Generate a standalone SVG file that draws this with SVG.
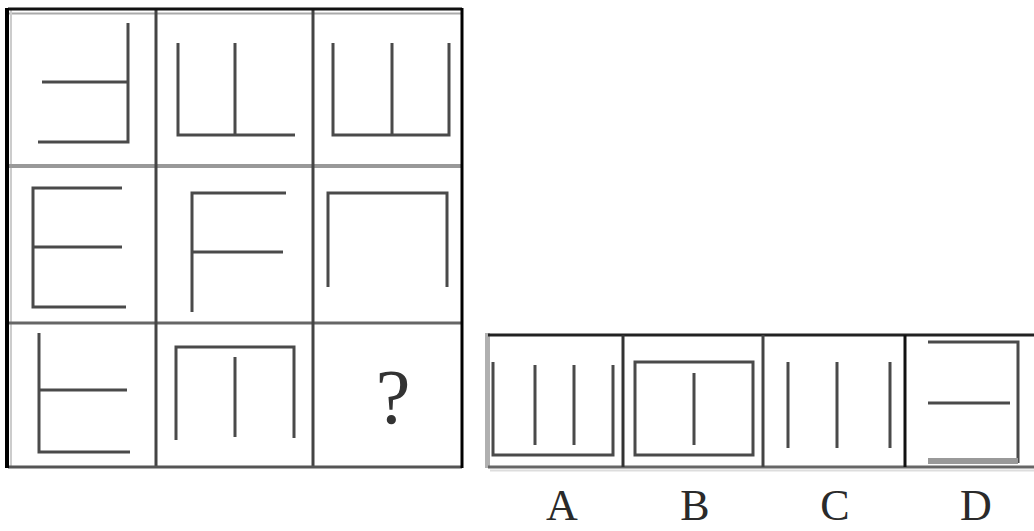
<svg xmlns="http://www.w3.org/2000/svg" width="1034" height="531" viewBox="0 0 1034 531">
<style>
.fig{fill:none;stroke:#4a4a4a;stroke-width:3;stroke-linecap:butt;stroke-linejoin:miter}
.grid{fill:none;stroke:#444;stroke-width:3}
.lbl{font-family:"Liberation Serif","DejaVu Serif",serif;font-size:44px;fill:#2a2a2a;text-anchor:middle}
</style>
<rect width="1034" height="531" fill="#fff"/>
<g id="grid-lines">
  <line x1="8" y1="13.5" x2="462" y2="13.5" stroke="#aaa" stroke-width="2"/>
  <line x1="11" y1="10" x2="11" y2="467" stroke="#ccc" stroke-width="2"/>
  <line x1="8" y1="166" x2="462" y2="166" stroke="#999" stroke-width="4"/>
  <line x1="8" y1="323" x2="462" y2="323" stroke="#666" stroke-width="3"/>
  <line x1="156" y1="10" x2="156" y2="467" class="grid"/>
  <line x1="313" y1="10" x2="313" y2="467" class="grid"/>
  <line x1="8" y1="467" x2="462" y2="467" stroke="#555" stroke-width="3"/>
  <line x1="8" y1="9" x2="462" y2="9" stroke="#111" stroke-width="3"/>
  <line x1="7" y1="8" x2="7" y2="468" stroke="#000" stroke-width="4"/>
  <line x1="462" y1="8" x2="462" y2="468" stroke="#000" stroke-width="3"/>
  <line x1="487.5" y1="333" x2="487.5" y2="468" stroke="#b0b0b0" stroke-width="5"/>
  <line x1="488" y1="335" x2="1034" y2="335" stroke="#222" stroke-width="3"/>
  <line x1="488" y1="467" x2="1034" y2="467" stroke="#666" stroke-width="3"/>
  <line x1="490" y1="470.5" x2="1034" y2="470.5" stroke="#ddd" stroke-width="2"/>
  <line x1="623" y1="335" x2="623" y2="467" stroke="#333" stroke-width="3"/>
  <line x1="763" y1="335" x2="763" y2="467" stroke="#444" stroke-width="3"/>
  <line x1="905" y1="335" x2="905" y2="467" stroke="#111" stroke-width="3"/>
</g>
<g id="cell-1-1"><path class="fig" d="M42,82 H128 M38,142 H128 V23"/></g>
<g id="cell-1-2"><path class="fig" d="M178,43 V135 H295 M235,43 V135"/></g>
<g id="cell-1-3"><path class="fig" d="M333,43 V135 H449 V43 M392,43 V135"/></g>
<g id="cell-2-1"><path class="fig" d="M122,188 H33 V307 H126 M33,247 H122"/></g>
<g id="cell-2-2"><path class="fig" d="M286,193 H192 V312 M192,252 H283"/></g>
<g id="cell-2-3"><path class="fig" d="M328,287 V193 H447 V287"/></g>
<g id="cell-3-1"><path class="fig" d="M39,333 V452 H130 M39,390 H127"/></g>
<g id="cell-3-2"><path class="fig" d="M176,440 V347 H294 V438 M235,357 V437"/></g>
<g id="cell-3-3"><text x="393" y="423" font-family="Liberation Serif, DejaVu Serif, serif" font-size="78" fill="#333" text-anchor="middle">?</text></g>
<g id="option-a"><path class="fig" d="M493,362 V455 H613 V365 M535,365 V445 M574,365 V445"/></g>
<g id="option-b"><path class="fig" d="M635,362 H753 V455 H635 Z M694,373 V445"/></g>
<g id="option-c"><path class="fig" d="M788,362 V448 M837,362 V448 M890,362 V448"/></g>
<g id="option-d"><path class="fig" d="M928,342 H1018 V463 M928,403 H1010"/><line x1="928" y1="461" x2="1018" y2="461" stroke="#999" stroke-width="6"/></g>
<g id="labels">
  <text class="lbl" x="562" y="520">A</text>
  <text class="lbl" x="695" y="520">B</text>
  <text class="lbl" x="835" y="520">C</text>
  <text class="lbl" x="976" y="520">D</text>
</g>
</svg>
